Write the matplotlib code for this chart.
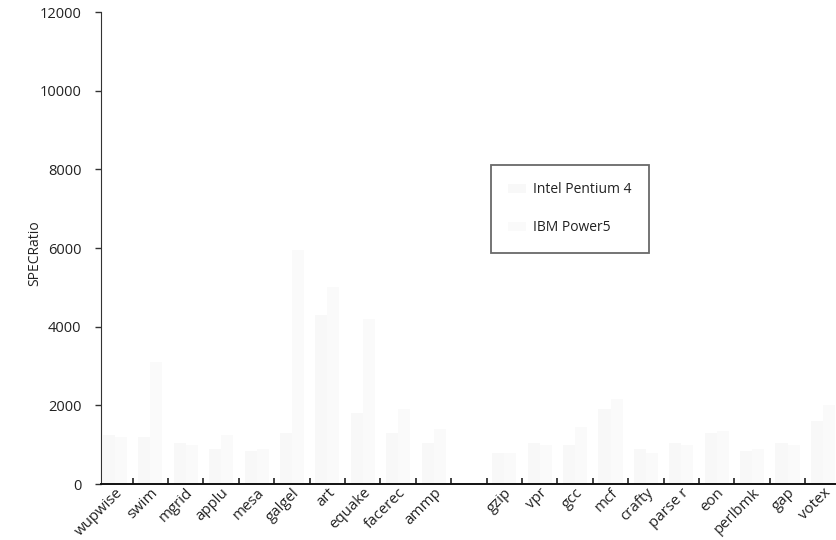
import matplotlib
matplotlib.use("Agg")
import matplotlib.pyplot as plt
import numpy as np

# SPEC2000 benchmarks (fp group, a gap, then the int group)
fp_benchmarks = ["wupwise", "swim", "mgrid", "applu", "mesa", "galgel", "art",
                 "equake", "facerec", "ammp"]
int_benchmarks = ["gzip", "vpr", "gcc", "mcf", "crafty", "parse r", "eon",
                  "perlbmk", "gap", "votex"]

# SPECRatio per benchmark, fp then int
pentium4 = [1250, 1200, 1050, 900, 850, 1300, 4300, 1800, 1300, 1050,
            800, 1050, 1000, 1900, 900, 1050, 1300, 850, 1050, 1600]
power5 = [1200, 3100, 1000, 1250, 900, 5950, 5000, 4200, 1900, 1400,
          780, 1000, 1450, 2150, 800, 1000, 1350, 900, 1000, 2000]

series_names = ["Intel Pentium 4", "IBM Power5"]
y_ticks = [0, 2000, 4000, 6000, 8000, 10000, 12000]

plt.rcParams["font.family"] = ["Open Sans", "DejaVu Sans"]

labels = fp_benchmarks + int_benchmarks
# slot positions: one empty slot separates the two groups
pos = np.array(list(range(len(fp_benchmarks))) +
               [len(fp_benchmarks) + 1 + i for i in range(len(int_benchmarks))], dtype=float)

fig = plt.figure(figsize=(8.36, 5.40), dpi=100)
ax = fig.add_axes([101 / 836, 56 / 540, 735 / 836, 472 / 540])

# very pale fills, the bars are barely visible on the page
w = 0.34
b1 = ax.bar(pos - w / 2, pentium4, width=w, color="#f8f8f8", edgecolor="none",
            label=series_names[0])
b2 = ax.bar(pos + w / 2, power5, width=w, color="#fafafa", edgecolor="none",
            label=series_names[1])

ax.set_ylim(0, 12000)
ax.set_xlim(-0.395, 20.37)
ax.set_yticks(y_ticks)
ax.set_yticklabels([str(v) for v in y_ticks], fontsize=10.5, color="#222222")
ax.tick_params(axis="y", direction="out", length=4, width=1, pad=10, color="#333333")

# boundary ticks between category slots, labels at slot centres
ax.set_xticks(np.arange(0, 20) + 0.5)
ax.set_xticklabels([])
ax.tick_params(axis="x", which="major", direction="in", length=4, width=1.2,
               color="#222222")
ax.set_xticks(pos, minor=True)
ax.set_xticklabels(labels, minor=True, rotation=45, ha="right",
                   rotation_mode="anchor", fontsize=10.8, color="#222222")
ax.tick_params(axis="x", which="minor", length=0, pad=1)

for s in ("top", "right"):
    ax.spines[s].set_visible(False)
ax.spines["left"].set_color("#333333")
ax.spines["bottom"].set_color("#111111")
ax.spines["bottom"].set_linewidth(1.4)

ax.set_ylabel("SPECRatio", fontsize=10, color="#222222")
ax.yaxis.set_label_coords(-0.080, 0.49)

leg = ax.legend(handles=[b1, b2], loc="upper left",
                bbox_to_anchor=(491 / 836, 1 - 165 / 540),
                bbox_transform=fig.transFigure, frameon=True, fancybox=False,
                fontsize=10, labelspacing=1.65, handlelength=1.3,
                handletextpad=0.5, borderpad=1.25, borderaxespad=0)
leg.get_frame().set_edgecolor("#444444")
leg.get_frame().set_linewidth(1.3)
for t in leg.get_texts():
    t.set_color("#222222")

fig.savefig("out.png", dpi=100)
